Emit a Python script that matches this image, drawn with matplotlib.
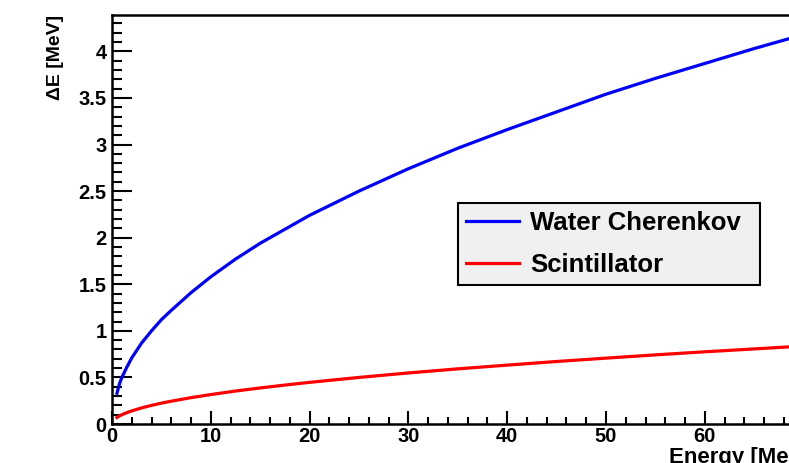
import matplotlib
matplotlib.use("Agg")
import matplotlib.pyplot as plt
from matplotlib.ticker import MultipleLocator, FixedLocator

## Values
energy = [0.5, 0.75, 1, 1.5, 2, 3, 4, 5, 6, 8, 10, 12.5, 15, 17.5, 20, 25, 30,
          35, 40, 45, 50, 55, 60, 65, 70, 75]
water = [0.33, 0.43, 0.50, 0.61, 0.71, 0.87, 1.00, 1.12, 1.22, 1.41, 1.58, 1.77,
         1.94, 2.09, 2.24, 2.50, 2.74, 2.96, 3.16, 3.35, 3.54, 3.71, 3.87, 4.03,
         4.18, 4.33]
scint = [0.07, 0.087, 0.10, 0.122, 0.141, 0.173, 0.20, 0.224, 0.245, 0.283, 0.316,
         0.354, 0.387, 0.418, 0.447, 0.50, 0.548, 0.592, 0.632, 0.671, 0.707,
         0.742, 0.775, 0.806, 0.837, 0.866]
x_ticks = [0, 10, 20, 30, 40, 50, 60]

plt.rcParams['font.family'] = ['Liberation Sans', 'DejaVu Sans']
plt.rcParams['font.weight'] = 'bold'

fig = plt.figure(figsize=(7.89, 4.63), dpi=100)
## axes run past the right edge, as in the cropped original
ax = fig.add_axes([112/789, 1 - 424/463, (75*9.88)/789, (424 - 15)/463])

ax.plot(energy, water, color='#0000ff', lw=2.3, label='Water Cherenkov')
ax.plot(energy, scint, color='#ff0000', lw=2.3, label='Scintillator')

ax.set_xlim(0, 75)
ax.set_ylim(0, 4.39)
ax.xaxis.set_major_locator(FixedLocator(x_ticks))
ax.xaxis.set_minor_locator(MultipleLocator(2))
ax.yaxis.set_major_locator(MultipleLocator(0.5))
ax.yaxis.set_minor_locator(MultipleLocator(0.1))
ax.yaxis.set_major_formatter(plt.FuncFormatter(lambda v, p: '%g' % v))
ax.tick_params(which='both', direction='in', width=1.5, labelsize=14.5)
ax.tick_params(axis='x', which='major', length=9.5, pad=2)
ax.tick_params(axis='x', which='minor', length=5)
ax.tick_params(axis='y', which='major', length=14.5, pad=4)
ax.tick_params(axis='y', which='minor', length=7.2)
for s in ax.spines.values():
    s.set_linewidth(1.8)

fig.text(56/789, 1 - 15/463, '\u0394E [MeV]', rotation=90, ha='center', va='top',
         fontsize=14, fontweight='bold')
fig.text(669/789, 1 - 447/463, 'Energy [MeV]', ha='left', va='top',
         fontsize=16, fontweight='bold')

leg = ax.legend(loc='center', bbox_to_anchor=(458/789, 1 - 285/463, 302/789, 82/463),
                bbox_transform=fig.transFigure, mode='expand', fancybox=False,
                shadow=False, fontsize=18.5, handlelength=2.05, labelspacing=0.7,
                borderpad=0.32, handletextpad=0.45, borderaxespad=0, framealpha=1)
leg.get_frame().set_facecolor('#f0f0f0')
leg.get_frame().set_edgecolor('black')
leg.get_frame().set_linewidth(1.5)

plt.savefig("out.png", dpi=100)
